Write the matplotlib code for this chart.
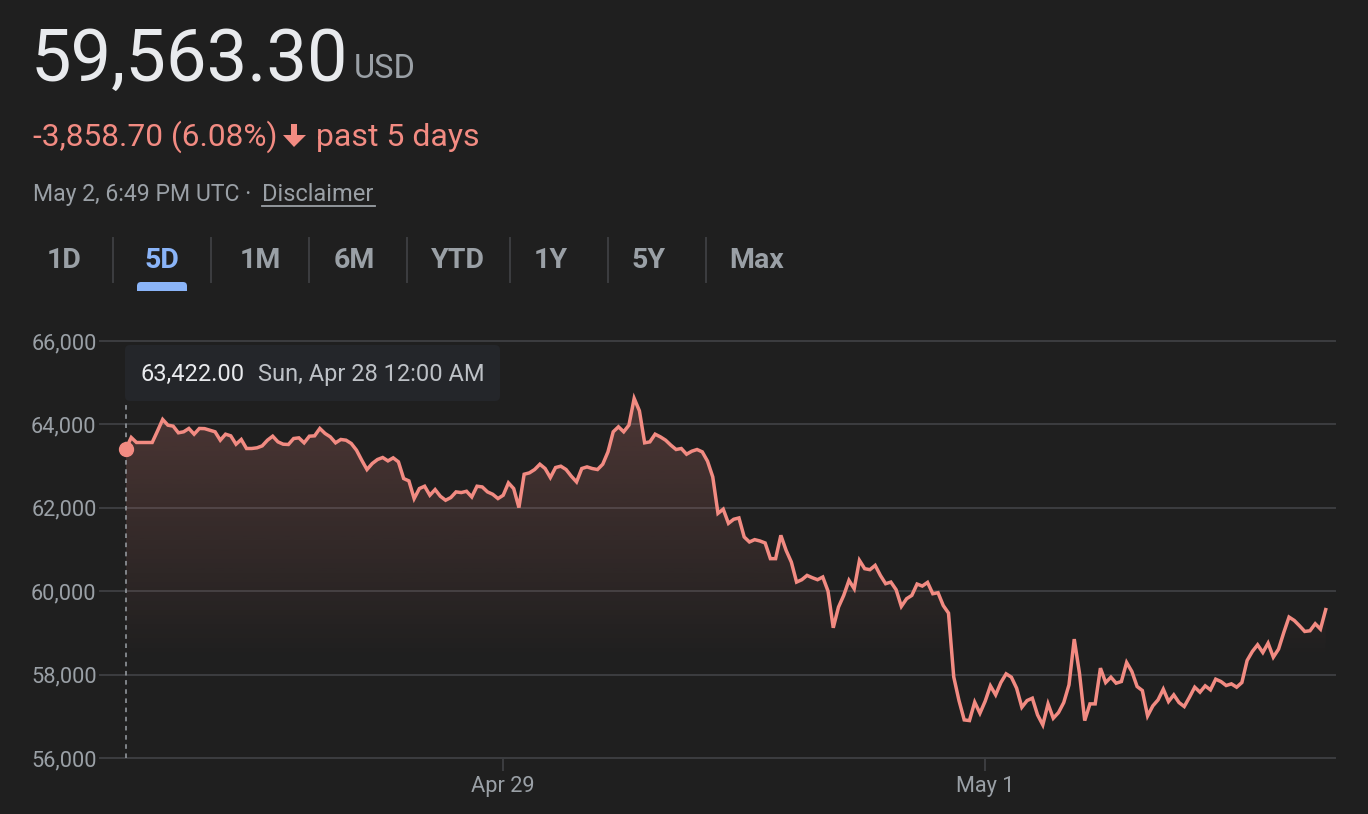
import matplotlib
matplotlib.use("Agg")
import matplotlib.pyplot as plt
import numpy as np
from matplotlib.patches import FancyBboxPatch, Polygon
from matplotlib.lines import Line2D

# BTC / USD, 30-minute steps starting Sun Apr 28 12:00 AM UTC
prices = [
    63422, 63688, 63568, 63568, 63568, 63568, 63840, 64120, 63983, 63960,
    63800, 63824, 63904, 63767, 63904, 63900, 63863, 63824, 63623, 63767,
    63727, 63527, 63640, 63424, 63424, 63440, 63487, 63623, 63719, 63583,
    63527, 63520, 63663, 63679, 63560, 63719, 63727, 63904, 63784, 63703,
    63560, 63640, 63623, 63544, 63383, 63143, 62920, 63064, 63160, 63208,
    63127, 63200, 63104, 62704, 62647, 62224, 62464, 62520, 62304, 62440,
    62280, 62184, 62248, 62384, 62368, 62399, 62263, 62520, 62503, 62384,
    62327, 62224, 62304, 62600, 62464, 62008, 62807, 62840, 62920, 63047,
    62944, 62728, 62968, 63000, 62920, 62760, 62623, 62944, 62983, 62944,
    62920, 63047, 63343, 63824, 63944, 63824, 63984, 64624, 64327, 63560,
    63583, 63767, 63703, 63623, 63504, 63400, 63424, 63287, 63359, 63400,
    63343, 63120, 62744, 61870, 61970, 61630, 61728, 61760, 61304, 61184,
    61240, 61208, 61160, 60784, 60784, 61343, 60983, 60703, 60223, 60280,
    60383, 60328, 60280, 60344, 60008, 59128, 59623, 59904, 60264, 60064,
    60743, 60544, 60520, 60623, 60383, 60184, 60223, 60040, 59640, 59824,
    59904, 60176, 60128, 60215, 59944, 59968, 59660, 59480, 57950, 57384,
    56920, 56904, 57344, 57080, 57368, 57736, 57520, 57816, 58024, 57944,
    57680, 57224, 57384, 57440, 57040, 56800, 57304, 56960, 57096, 57336,
    57760, 58856, 58040, 56904, 57304, 57304, 58160, 57816, 57944, 57800,
    57840, 58296, 58080, 57720, 57624, 57016, 57256, 57400, 57656, 57360,
    57520, 57336, 57240, 57464, 57704, 57584, 57736, 57640, 57896, 57840,
    57744, 57784, 57704, 57816, 58344, 58560, 58720, 58535, 58760, 58424,
    58616, 59015, 59384, 59303, 59176, 59040, 59056, 59224, 59096, 59563,
]
step_hours = 0.5
hours = np.arange(len(prices)) * step_hours

y_ticks = [56000, 58000, 60000, 62000, 64000, 66000]
x_tick_hours = [36, 82]
x_tick_labels = ["Apr 29", "May 1"]
tabs = ["1D", "5D", "1M", "6M", "YTD", "1Y", "5Y", "Max"]
active_tab = "5D"

BG = "#1f1f1f"
LINE = "#f28b82"
GRID = "#3c3d40"
GREY = "#9aa0a6"
WHITE = "#e8eaed"
BLUE = "#8ab4f8"

plt.rcParams['font.family'] = ['Roboto', 'DejaVu Sans']

W, H = 1368, 814
fig = plt.figure(figsize=(W / 100, H / 100), dpi=100)
fig.patch.set_facecolor(BG)


def fx(px):
    return px / W


def fy(py):
    return 1 - py / H


ax = fig.add_axes([fx(100), fy(758.3), fx(1335) - fx(100), fy(341) - fy(758.3)])
ax.set_facecolor(BG)

# x range: first point at px 126, last at px 1325.7
scale = (1325.7 - 126) / hours[-1]
ax.set_xlim(-(126 - 100) / scale, hours[-1] + (1335 - 1325.7) / scale)
ax.set_ylim(56000, 66000)

# gradient fill under the line
fill = ax.fill_between(hours, prices, 56000, color="none", lw=0)
yy = np.linspace(56000, 66000, 300)
alpha = np.clip((yy - 58300) / (64600 - 58300), 0, 1) * 0.22
grad = np.zeros((300, 1, 4))
grad[:, 0, 0] = 242 / 255
grad[:, 0, 1] = 139 / 255
grad[:, 0, 2] = 130 / 255
grad[:, 0, 3] = alpha
im = ax.imshow(grad, extent=[hours[0], hours[-1], 56000, 66000], origin="lower",
               aspect="auto", zorder=1)
im.set_clip_path(fill.get_paths()[0], transform=ax.transData)

ax.plot(hours, prices, color=LINE, lw=2.5, zorder=3, solid_joinstyle="miter")

for v in y_ticks:
    ax.axhline(v, color=GRID, lw=1.4, zorder=0, clip_on=False)

# hover marker
ax.vlines(hours[0], 56000, 64540, colors=GREY, linestyles=(0, (3, 3)), lw=1.1, zorder=2)
ax.plot(hours[0], prices[0], "o", ms=10, color=LINE, zorder=4)

for s in ax.spines.values():
    s.set_visible(False)
ax.set_yticks(y_ticks)
ax.set_yticklabels([f"{v:,}" for v in y_ticks])
ax.set_xticks(x_tick_hours)
ax.set_xticklabels(x_tick_labels)
ax.tick_params(axis="y", length=0, pad=2.5, labelsize=15.7, labelcolor=GREY)
ax.tick_params(axis="x", length=9.5, width=1.4, color=GRID, pad=3,
               labelsize=15.7, labelcolor=GREY)

# tooltip
inch = fig.dpi_scale_trans
tip = FancyBboxPatch((125 / 100, (H - 401) / 100), 375 / 100, 56 / 100,
                     boxstyle="round,pad=0,rounding_size=0.05",
                     transform=inch, facecolor="#24262a", edgecolor="none", zorder=5)
fig.add_artist(tip)
fig.text(fx(141), fy(374), f"{prices[0]:,.2f}", color=WHITE, fontsize=17,
         va="center", ha="left", zorder=6)
fig.text(fx(258), fy(374), "Sun, Apr 28 12:00 AM", color="#bdc1c6", fontsize=17,
         va="center", ha="left", zorder=6)

# header
fig.text(fx(31), fy(81), "59,563.30", color=WHITE, fontsize=52, va="baseline", ha="left")
fig.text(fx(354), fy(78), "USD", color=GREY, fontsize=23.5, va="baseline", ha="left")
fig.text(fx(33), fy(146), "-3,858.70 (6.08%)", color=LINE, fontsize=22.8,
         va="baseline", ha="left")
arrow_px = [(291, 124), (297, 124), (297, 135), (306, 135), (294, 147), (283, 135),
            (291, 135)]
fig.add_artist(Polygon([(fx(px), fy(py)) for px, py in arrow_px], closed=True,
                       transform=fig.transFigure, facecolor=LINE, edgecolor="none"))
fig.text(fx(316), fy(146), "past 5 days", color=LINE, fontsize=23, va="baseline", ha="left")
fig.text(fx(33), fy(201), "May 2, 6:49 PM UTC ·", color=GREY, fontsize=16.6,
         va="baseline", ha="left")
fig.text(fx(262), fy(201), "Disclaimer", color=GREY, fontsize=17, va="baseline", ha="left")
fig.add_artist(Line2D([fx(262), fx(375)], [fy(206), fy(206)], color=GREY, lw=1.3))

# range tabs
tab_centers = [64, 162, 260, 354, 458, 551, 649, 757]
separators = [113, 211, 309, 407, 510, 608, 706]
for name, cx in zip(tabs, tab_centers):
    fig.text(fx(cx), fy(260), name, color=BLUE if name == active_tab else GREY,
             fontsize=20.5, fontweight="bold", va="center", ha="center")
for sx in separators:
    fig.add_artist(Line2D([fx(sx), fx(sx)], [fy(238), fy(282)], color=GRID, lw=1.4))
k = tabs.index(active_tab)
pill = FancyBboxPatch(((tab_centers[k] - 25) / 100, (H - 291) / 100), 50 / 100, 9 / 100,
                      boxstyle="round,pad=0,rounding_size=0.04", transform=inch,
                      facecolor=BLUE, edgecolor="none")
fig.add_artist(pill)
# square off the bottom of the pill
fig.add_artist(FancyBboxPatch(((tab_centers[k] - 25) / 100, (H - 291) / 100), 50 / 100,
                              4.5 / 100, boxstyle="square,pad=0", transform=inch,
                              facecolor=BLUE, edgecolor="none"))

fig.savefig("out.png", dpi=100, facecolor=BG)
